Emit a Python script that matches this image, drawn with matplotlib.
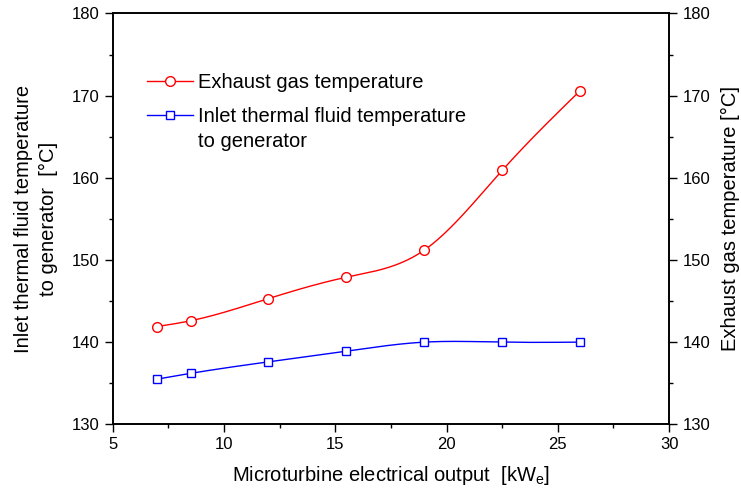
import numpy as np
import matplotlib
matplotlib.use("Agg")
import matplotlib.pyplot as plt
from matplotlib.ticker import MultipleLocator
from matplotlib.lines import Line2D

plt.rcParams['font.family'] = ['Liberation Sans', 'DejaVu Sans']
plt.rcParams['mathtext.fontset'] = 'custom'
plt.rcParams['mathtext.rm'] = 'Liberation Sans'

# Microturbine electrical output [kWe]
power = [7, 8.5, 12, 15.5, 19, 22.5, 26]
# Exhaust gas temperature [°C]
exhaust_temp = [141.9, 142.6, 145.3, 147.9, 151.2, 160.9, 170.6]
# Inlet thermal fluid temperature to generator [°C]
inlet_temp = [135.5, 136.2, 137.6, 138.9, 140.0, 140.0, 140.0]


def natural_spline(x, y, n=200):
    """Smooth natural cubic spline through the given points."""
    x = np.asarray(x, float)
    y = np.asarray(y, float)
    m = len(x)
    h = np.diff(x)
    A = np.zeros((m, m))
    b = np.zeros(m)
    A[0, 0] = A[-1, -1] = 1.0
    for i in range(1, m - 1):
        A[i, i - 1] = h[i - 1]
        A[i, i] = 2 * (h[i - 1] + h[i])
        A[i, i + 1] = h[i]
        b[i] = 3 * ((y[i + 1] - y[i]) / h[i] - (y[i] - y[i - 1]) / h[i - 1])
    c = np.linalg.solve(A, b)
    xs = np.linspace(x[0], x[-1], n)
    idx = np.clip(np.searchsorted(x, xs) - 1, 0, m - 2)
    dx = xs - x[idx]
    hi = h[idx]
    bi = (y[idx + 1] - y[idx]) / hi - hi * (2 * c[idx] + c[idx + 1]) / 3
    di = (c[idx + 1] - c[idx]) / (3 * hi)
    ys = y[idx] + bi * dx + c[idx] * dx ** 2 + di * dx ** 3
    return xs, ys


fig = plt.figure(figsize=(7.41, 4.92), dpi=100)
ax = fig.add_axes([0.152, 0.1376, 0.751, 0.835])
ax2 = ax.twinx()

red = '#ff0000'
blue = '#0000ff'
ms_circle = 7
ms_square = 6

xs, ys = natural_spline(power, exhaust_temp)
ax2.plot(xs, ys, color=red, lw=1.0)
ax2.plot(power, exhaust_temp, 'o', color=red, mfc='white', mec=red, ms=ms_circle, mew=1.0)

xs, ys = natural_spline(power, inlet_temp)
ax.plot(xs, ys, color=blue, lw=1.0)
ax.plot(power, inlet_temp, 's', color=blue, mfc='white', mec=blue, ms=ms_square, mew=1.0)

for a in (ax, ax2):
    a.set_xlim(5, 30)
    a.set_ylim(130, 180)
    a.yaxis.set_major_locator(MultipleLocator(10))
    a.yaxis.set_minor_locator(MultipleLocator(5))
    for s in a.spines.values():
        s.set_linewidth(1.2)

ax.xaxis.set_major_locator(MultipleLocator(5))
ax.xaxis.set_minor_locator(MultipleLocator(2.5))
ax.tick_params(axis='both', which='both', direction='out', labelsize=12, width=1.0)
ax.tick_params(which='major', length=6)
ax.tick_params(which='minor', length=3.2)
ax2.tick_params(axis='y', which='both', direction='out', labelsize=12, width=1.0)
ax2.tick_params(which='major', length=6)
ax2.tick_params(which='minor', length=3.2)

ax.set_xlabel(r'Microturbine electrical output  [kW$_\mathregular{e}$]', fontsize=14.5, labelpad=8)
ax.set_ylabel('Inlet thermal fluid temperature\nto generator  [°C]', fontsize=14.5,
              labelpad=10, linespacing=1.35)
ax2.set_ylabel('Exhaust gas temperature [°C]', fontsize=14.5, labelpad=8)

# Key: sample line with marker, followed by the label text
key_x0, key_x1, key_text_x = 0.062, 0.144, 0.153
key_entries = [
    (red, 'o', ms_circle, 0.836, ['Exhaust gas temperature'], [0.818]),
    (blue, 's', ms_square, 0.753, ['Inlet thermal fluid temperature', 'to generator'], [0.737, 0.675]),
]
for color, marker, ms, y_line, lines, y_text in key_entries:
    ax.add_line(Line2D([key_x0, key_x1], [y_line, y_line], transform=ax.transAxes,
                       color=color, lw=1.0, clip_on=False))
    ax.add_line(Line2D([(key_x0 + key_x1) / 2], [y_line], transform=ax.transAxes,
                       color=color, marker=marker, mfc='white', mec=color, ms=ms,
                       mew=1.0, lw=0, clip_on=False))
    for txt, yt in zip(lines, y_text):
        ax.text(key_text_x, yt, txt, transform=ax.transAxes, fontsize=14.5,
                ha='left', va='baseline')

fig.savefig('out.png', dpi=100)
